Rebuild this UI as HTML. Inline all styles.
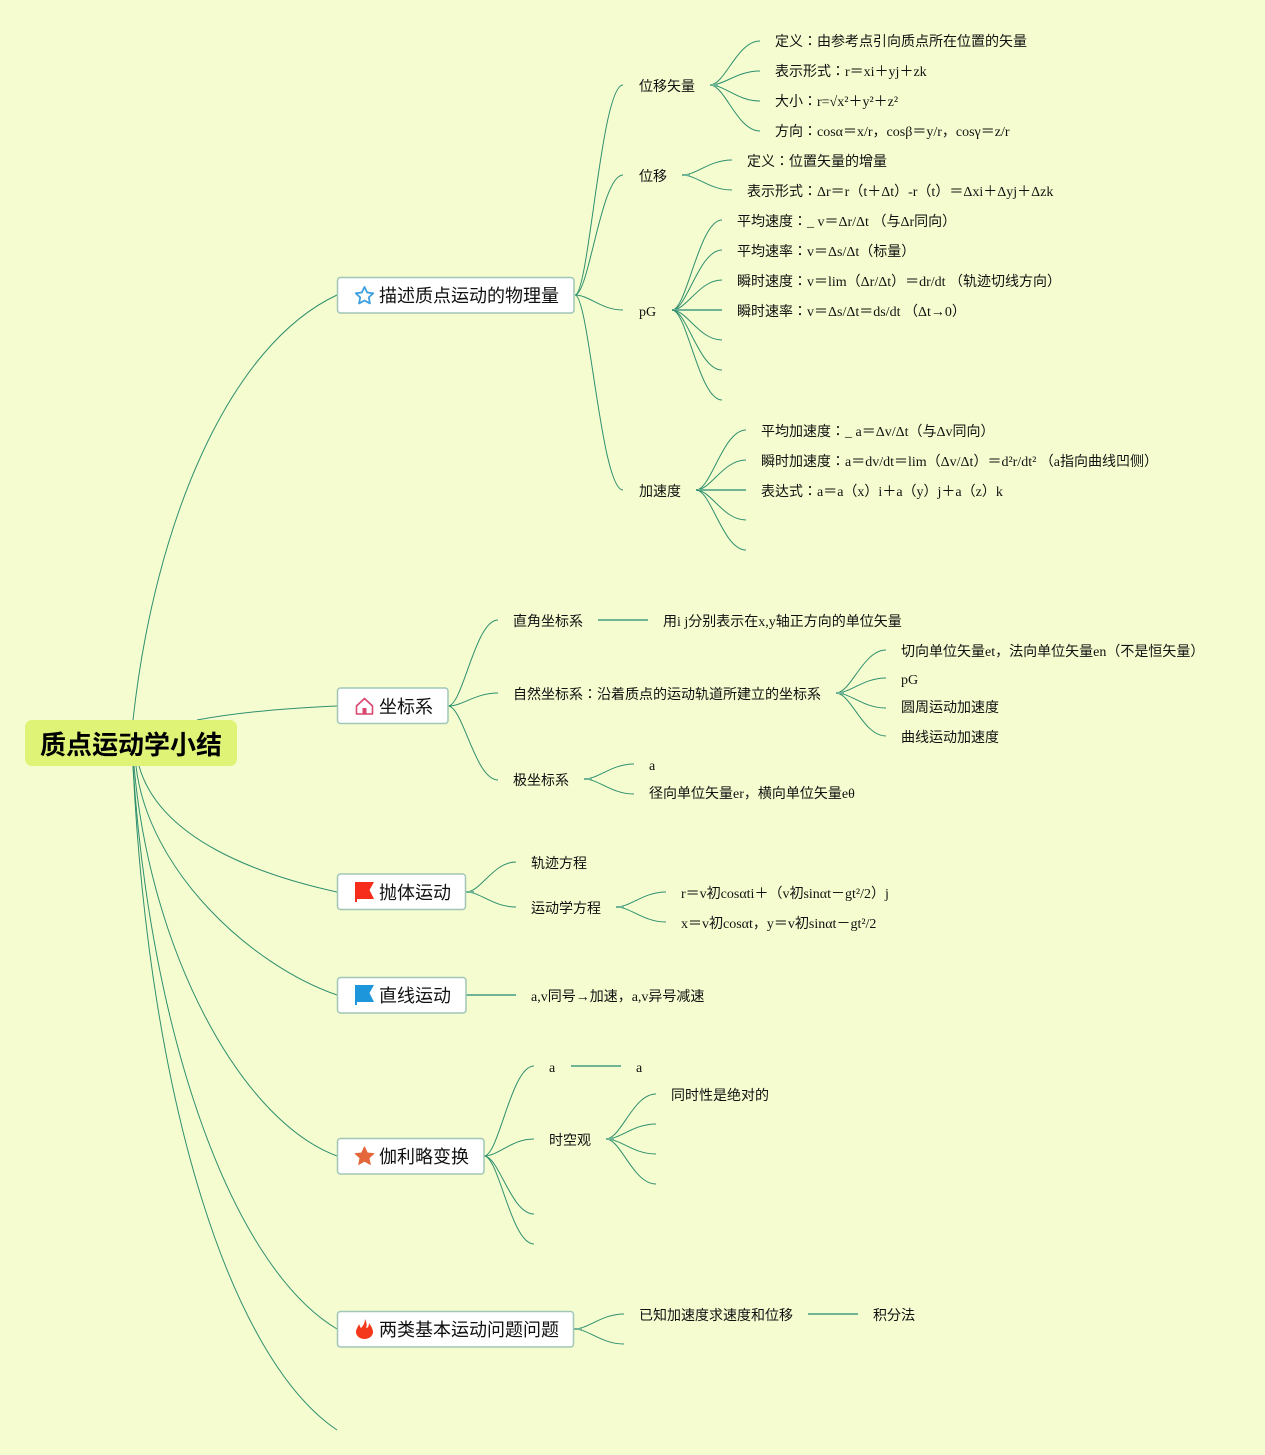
<!DOCTYPE html>
<html>
<head>
<meta charset="utf-8">
<title>质点运动学小结</title>
<style>
html,body{margin:0;padding:0;background:#f5fdd0;}
svg{display:block;}
text{font-family:"Liberation Serif","Noto Sans CJK JP",serif;font-size:14px;fill:#111;}
.n{font-family:"Liberation Serif","Noto Sans CJK JP",sans-serif;font-size:18px;fill:#111;}
.r{font-family:"Liberation Sans","Noto Sans CJK JP",sans-serif;font-size:26px;font-weight:bold;fill:#000;}
.l{fill:none;stroke:#2f8f6e;stroke-width:1;}
.t{fill:none;stroke:#6fb496;stroke-width:2;}
.b{fill:#fff;stroke:#a0c6b6;stroke-width:1.500;}
</style>
</head>
<body>
<svg width="1265" height="1455" viewBox="0 0 1265 1455" xmlns="http://www.w3.org/2000/svg">
<rect width="1265" height="1455" fill="#f5fdd0"/>

<!-- root connectors -->
<path class="l" d="M133 720C155 520 230 345 337 295"/>
<path class="l" d="M197 720C240 712 290 708 337 706"/>
<path class="l" d="M139 766C160 840 260 875 337 892"/>
<path class="l" d="M136 766C148 870 250 965 337 995"/>
<path class="l" d="M134 766C150 950 240 1120 337 1156"/>
<path class="l" d="M133 766C150 1030 230 1265 337 1329"/>
<path class="l" d="M133 766C150 1110 233 1360 337 1430"/>

<!-- branch 1 -->
<path class="l" d="M575 295C589 295 601 85 623 85"/>
<path class="l" d="M575 295C589 295 601 175 623 175"/>
<path class="l" d="M575 295C589 295 601 310 623 310"/>
<path class="l" d="M575 295C589 295 601 490 623 490"/>
<path class="l" d="M710 85C725 85 737 41 760 41"/>
<path class="l" d="M710 85C725 85 737 71 760 71"/>
<path class="l" d="M710 85C725 85 737 101 760 101"/>
<path class="l" d="M710 85C725 85 737 131 760 131"/>
<path class="t" d="M710 85H718"/>
<path class="l" d="M682 175C697 175 709 160 732 160"/>
<path class="l" d="M682 175C697 175 709 190 732 190"/>
<path class="t" d="M682 175H690"/>
<path class="l" d="M672 310C687 310 699 220 722 220"/>
<path class="l" d="M672 310C687 310 699 250 722 250"/>
<path class="l" d="M672 310C687 310 699 280 722 280"/>
<path class="t" d="M672 310H722"/>
<path class="l" d="M672 310C687 310 699 340 722 340"/>
<path class="l" d="M672 310C687 310 699 370 722 370"/>
<path class="l" d="M672 310C687 310 699 400 722 400"/>
<path class="l" d="M696 490C711 490 723 430 746 430"/>
<path class="l" d="M696 490C711 490 723 460 746 460"/>
<path class="t" d="M696 490H746"/>
<path class="l" d="M696 490C711 490 723 520 746 520"/>
<path class="l" d="M696 490C711 490 723 550 746 550"/>

<!-- branch 2 -->
<path class="l" d="M448 706C463 706 475 620 498 620"/>
<path class="l" d="M448 706C463 706 475 693 498 693"/>
<path class="l" d="M448 706C463 706 475 780 498 780"/>
<path class="t" d="M598 620H648"/>
<path class="l" d="M836 693C851 693 863 650 886 650"/>
<path class="l" d="M836 693C851 693 863 678 886 678"/>
<path class="l" d="M836 693C851 693 863 708 886 708"/>
<path class="l" d="M836 693C851 693 863 736 886 736"/>
<path class="t" d="M836 693H844"/>
<path class="l" d="M584 779C599 779 611 764 634 764"/>
<path class="l" d="M584 779C599 779 611 794 634 794"/>
<path class="t" d="M584 779H592"/>

<!-- branch 3 -->
<path class="l" d="M466 892C481 892 493 862 516 862"/>
<path class="l" d="M466 892C481 892 493 907 516 907"/>
<path class="t" d="M466 892H474"/>
<path class="l" d="M616 907C631 907 643 892 666 892"/>
<path class="l" d="M616 907C631 907 643 922 666 922"/>
<path class="t" d="M616 907H624"/>

<!-- branch 4 -->
<path class="t" d="M466 995H516"/>

<!-- branch 5 -->
<path class="l" d="M484 1156C499 1156 511 1066 534 1066"/>
<path class="l" d="M484 1156C499 1156 511 1139 534 1139"/>
<path class="l" d="M484 1156C499 1156 511 1214 534 1214"/>
<path class="l" d="M484 1156C499 1156 511 1244 534 1244"/>
<path class="t" d="M571 1066H621"/>
<path class="l" d="M606 1139C621 1139 633 1094 656 1094"/>
<path class="l" d="M606 1139C621 1139 633 1124 656 1124"/>
<path class="l" d="M606 1139C621 1139 633 1154 656 1154"/>
<path class="l" d="M606 1139C621 1139 633 1184 656 1184"/>
<path class="t" d="M606 1139H614"/>

<!-- branch 6 -->
<path class="l" d="M574 1329C589 1329 601 1314 624 1314"/>
<path class="l" d="M574 1329C589 1329 601 1344 624 1344"/>
<path class="t" d="M574 1329H582"/>
<path class="t" d="M808 1314H858"/>

<!-- root -->
<rect x="25" y="720" width="212" height="46" rx="7" fill="#dff377"/>
<text class="r" x="40" y="754">质点运动学小结</text>

<!-- main nodes -->
<rect class="b" x="337.500" y="277.500" width="236.500" height="35.500" rx="3"/>
<polygon points="364.500,287 367.200,292.500 373.200,293.300 368.800,297.400 369.900,303.400 364.500,300.500 359.100,303.400 360.200,297.400 355.800,293.300 361.800,292.500" fill="none" stroke="#3d9fe0" stroke-width="1.800" stroke-linejoin="round"/>
<text class="n" x="379" y="302">描述质点运动的物理量</text>

<rect class="b" x="337.500" y="688" width="110.500" height="35.500" rx="3"/>
<path d="M356.500 706L364.500 698.500L372.500 706V714H356.500Z" fill="none" stroke="#d9476e" stroke-width="1.600" stroke-linejoin="round"/>
<rect x="362.500" y="708" width="4" height="6" fill="#d9476e"/>
<text class="n" x="379" y="713">坐标系</text>

<rect class="b" x="337.500" y="874" width="128" height="35.500" rx="3"/>
<path d="M355 882H374L369.500 890L374 899H357V902H355Z" fill="#f52d1a"/>
<text class="n" x="379" y="899">抛体运动</text>

<rect class="b" x="337.500" y="977.500" width="128.500" height="35.500" rx="3"/>
<path d="M355 985H374L369.500 993L374 1002H357V1005H355Z" fill="#1d96dc"/>
<text class="n" x="379" y="1002">直线运动</text>

<rect class="b" x="337.500" y="1138.500" width="146.500" height="35.500" rx="3"/>
<polygon points="364.500,1147 367.300,1153 373.800,1153.600 368.900,1158 370.300,1164.500 364.500,1161.100 358.700,1164.500 360.100,1158 355.200,1153.600 361.700,1153" fill="#e3673a" stroke="#e3673a" stroke-width="1" stroke-linejoin="round"/>
<text class="n" x="379" y="1163">伽利略变换</text>

<rect class="b" x="337.500" y="1311.500" width="236" height="35.500" rx="3"/>
<path d="M365 1319C367 1323 367 1326 366 1328C368 1328 369 1326 369 1323C372 1327 373 1330 373 1332C373 1336 369 1339 364.500 1339C360 1339 356 1336 356 1332C356 1329 358 1327 359 1324C360 1326 360 1327 361 1328C363 1326 365 1323 365 1319Z" fill="#f4381c"/>
<text class="n" x="379" y="1336">两类基本运动问题问题</text>

<!-- branch 1 text -->
<text x="639" y="91">位移矢量</text>
<text x="775" y="46">定义：由参考点引向质点所在位置的矢量</text>
<text x="775" y="76">表示形式：r＝xi＋yj＋zk</text>
<text x="775" y="106">大小：r=√x²＋y²＋z²</text>
<text x="775" y="136">方向：cosα＝x/r，cosβ＝y/r，cosγ＝z/r</text>
<text x="639" y="181">位移</text>
<text x="747" y="166">定义：位置矢量的增量</text>
<text x="747" y="196">表示形式：Δr＝r（t＋Δt）-r（t）＝Δxi＋Δyj＋Δzk</text>
<text x="639" y="316">pG</text>
<text x="737" y="226">平均速度：_ v＝Δr/Δt （与Δr同向）</text>
<text x="737" y="256">平均速率：v＝Δs/Δt（标量）</text>
<text x="737" y="286">瞬时速度：v＝lim（Δr/Δt）＝dr/dt （轨迹切线方向）</text>
<text x="737" y="316">瞬时速率：v＝Δs/Δt＝ds/dt （Δt→0）</text>
<text x="639" y="496">加速度</text>
<text x="761" y="436">平均加速度：_ a＝Δv/Δt（与Δv同向）</text>
<text x="761" y="466">瞬时加速度：a＝dv/dt＝lim（Δv/Δt）＝d²r/dt² （a指向曲线凹侧）</text>
<text x="761" y="496">表达式：a＝a（x）i＋a（y）j＋a（z）k</text>

<!-- branch 2 text -->
<text x="513" y="626">直角坐标系</text>
<text x="663" y="626">用i j分别表示在x,y轴正方向的单位矢量</text>
<text x="513" y="699">自然坐标系：沿着质点的运动轨道所建立的坐标系</text>
<text x="901" y="656">切向单位矢量et，法向单位矢量en（不是恒矢量）</text>
<text x="901" y="684">pG</text>
<text x="901" y="712">圆周运动加速度</text>
<text x="901" y="742">曲线运动加速度</text>
<text x="513" y="785">极坐标系</text>
<text x="649" y="770">a</text>
<text x="649" y="798">径向单位矢量er，横向单位矢量eθ</text>

<!-- branch 3 text -->
<text x="531" y="868">轨迹方程</text>
<text x="531" y="913">运动学方程</text>
<text x="681" y="898">r＝v初cosαti＋（v初sinαt－gt²/2）j</text>
<text x="681" y="928">x＝v初cosαt，y＝v初sinαt－gt²/2</text>

<!-- branch 4 text -->
<text x="531" y="1001">a,v同号→加速，a,v异号减速</text>

<!-- branch 5 text -->
<text x="549" y="1072">a</text>
<text x="636" y="1072">a</text>
<text x="549" y="1145">时空观</text>
<text x="671" y="1100">同时性是绝对的</text>

<!-- branch 6 text -->
<text x="639" y="1320">已知加速度求速度和位移</text>
<text x="873" y="1320">积分法</text>
</svg>
</body>
</html>
